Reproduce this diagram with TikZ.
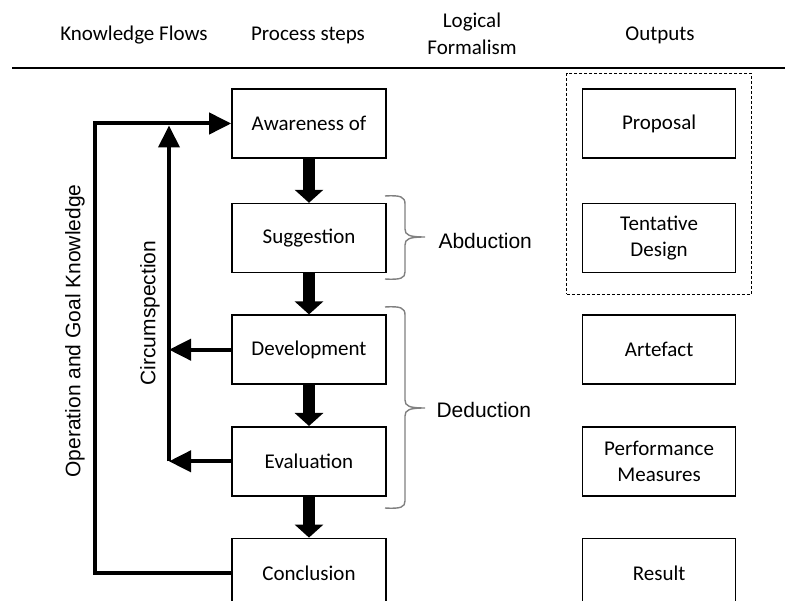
\documentclass[tikz,border=0pt]{standalone}
\usepackage{fontspec}
\setmainfont{Carlito}
\newfontfamily\arialfont{Liberation Sans}
\usetikzlibrary{arrows.meta, positioning, fit}

\begin{document}
\begin{tikzpicture}[x=1pt, y=1pt, node distance=41pt and 195pt,
		every node/.style={font=\fontsize{21}{26}\selectfont},
		stepbox/.style={draw, line width=1.6pt, minimum width=154pt, minimum height=69pt, align=center},
		outbox/.style={stepbox, minimum width=153pt},
		sidelabel/.style={font=\arialfont\fontsize{21}{25}\selectfont},
		every edge/.style={draw, -{Triangle[length=13pt, width=28pt]}, line width=12pt},
		flow/.style={line width=4pt, -{Triangle[length=22pt, width=21pt]}},
		gbrace/.style={draw=gray, line width=1.4pt}]
		\useasboundingbox (0,0) rectangle (785,-601);

		% Header
		\node (hkf) at (134,-35) {Knowledge Flows};
		\node (hps) at (308,-35) {Process steps};
		\node (hlf) [align=center, font=\fontsize{21}{27}\selectfont] at (472,-34) {Logical\\Formalism};
		\node (hout) at (660,-35) {Outputs};
		\draw[line width=1.8pt] (12,-68) -- (785,-68);

		% Nodes
		\node (aware) [stepbox] at (309,-123.5) {Awareness of};
		\node (sugg) [stepbox, below=44pt of aware] {Suggestion};
		\node (devel) [stepbox, below=of sugg] {Development};
		\node (eval) [stepbox, below=of devel] {Evaluation};
		\node (concl) [stepbox, below=of eval] {Conclusion};

		\node (prop) [outbox, right=of aware] {Proposal};
		\node (tent) [outbox, right=of sugg] {Tentative\\Design};
		\node (arte) [outbox, right=of devel] {Artefact};
		\node (perf) [outbox, right=of eval] {Performance\\Measures};
		\node (res) [outbox, right=of concl] {Result};
		\node (design) [draw, line width=1pt, dash pattern=on 3pt off 2pt, fit=(prop)(tent),
			inner xsep=15pt, inner ysep=18pt, yshift=-3pt] {};

		\coordinate (okline) at (95,-300);
		\coordinate (cline) at (169,-300);

		% Edges
		\draw (aware) edge (sugg) (sugg) edge (devel) (devel) edge (eval) (eval) edge (concl);
		\draw[flow] (concl.west) -- (concl.west -| okline) |- (aware.west);
		\draw[flow, shorten >=2pt] (eval.west -| cline) -- (aware.west -| cline);
		\draw[flow] (devel.west) -- (devel.west -| cline);
		\draw[flow] (eval.west) -- (eval.west -| cline);

		\node (ogk) [sidelabel, rotate=90] at (75,-331) {Operation and Goal Knowledge};
		\node (circ) [sidelabel, rotate=90] at (150,-313) {Circumspection};

		% Braces
		\draw[gbrace] (385,-196) .. controls (401,-195) and (405,-197) .. (405,-204) -- (405,-229)
			.. controls (405,-235) and (409,-237) .. (425,-237)
			.. controls (409,-237) and (405,-239) .. (405,-245) -- (405,-272)
			.. controls (405,-278) and (401,-280) .. (385,-279);
		\draw[gbrace] (385,-307) .. controls (401,-306) and (405,-308) .. (405,-315) -- (405,-400)
			.. controls (405,-406) and (409,-408) .. (425,-408)
			.. controls (409,-408) and (405,-410) .. (405,-416) -- (405,-501)
			.. controls (405,-507) and (401,-509) .. (385,-508);
		\node (abd) [sidelabel, anchor=west] at (435,-241) {Abduction};
		\node (ded) [sidelabel, anchor=west] at (433,-410) {Deduction};
	\end{tikzpicture}
\end{document}
